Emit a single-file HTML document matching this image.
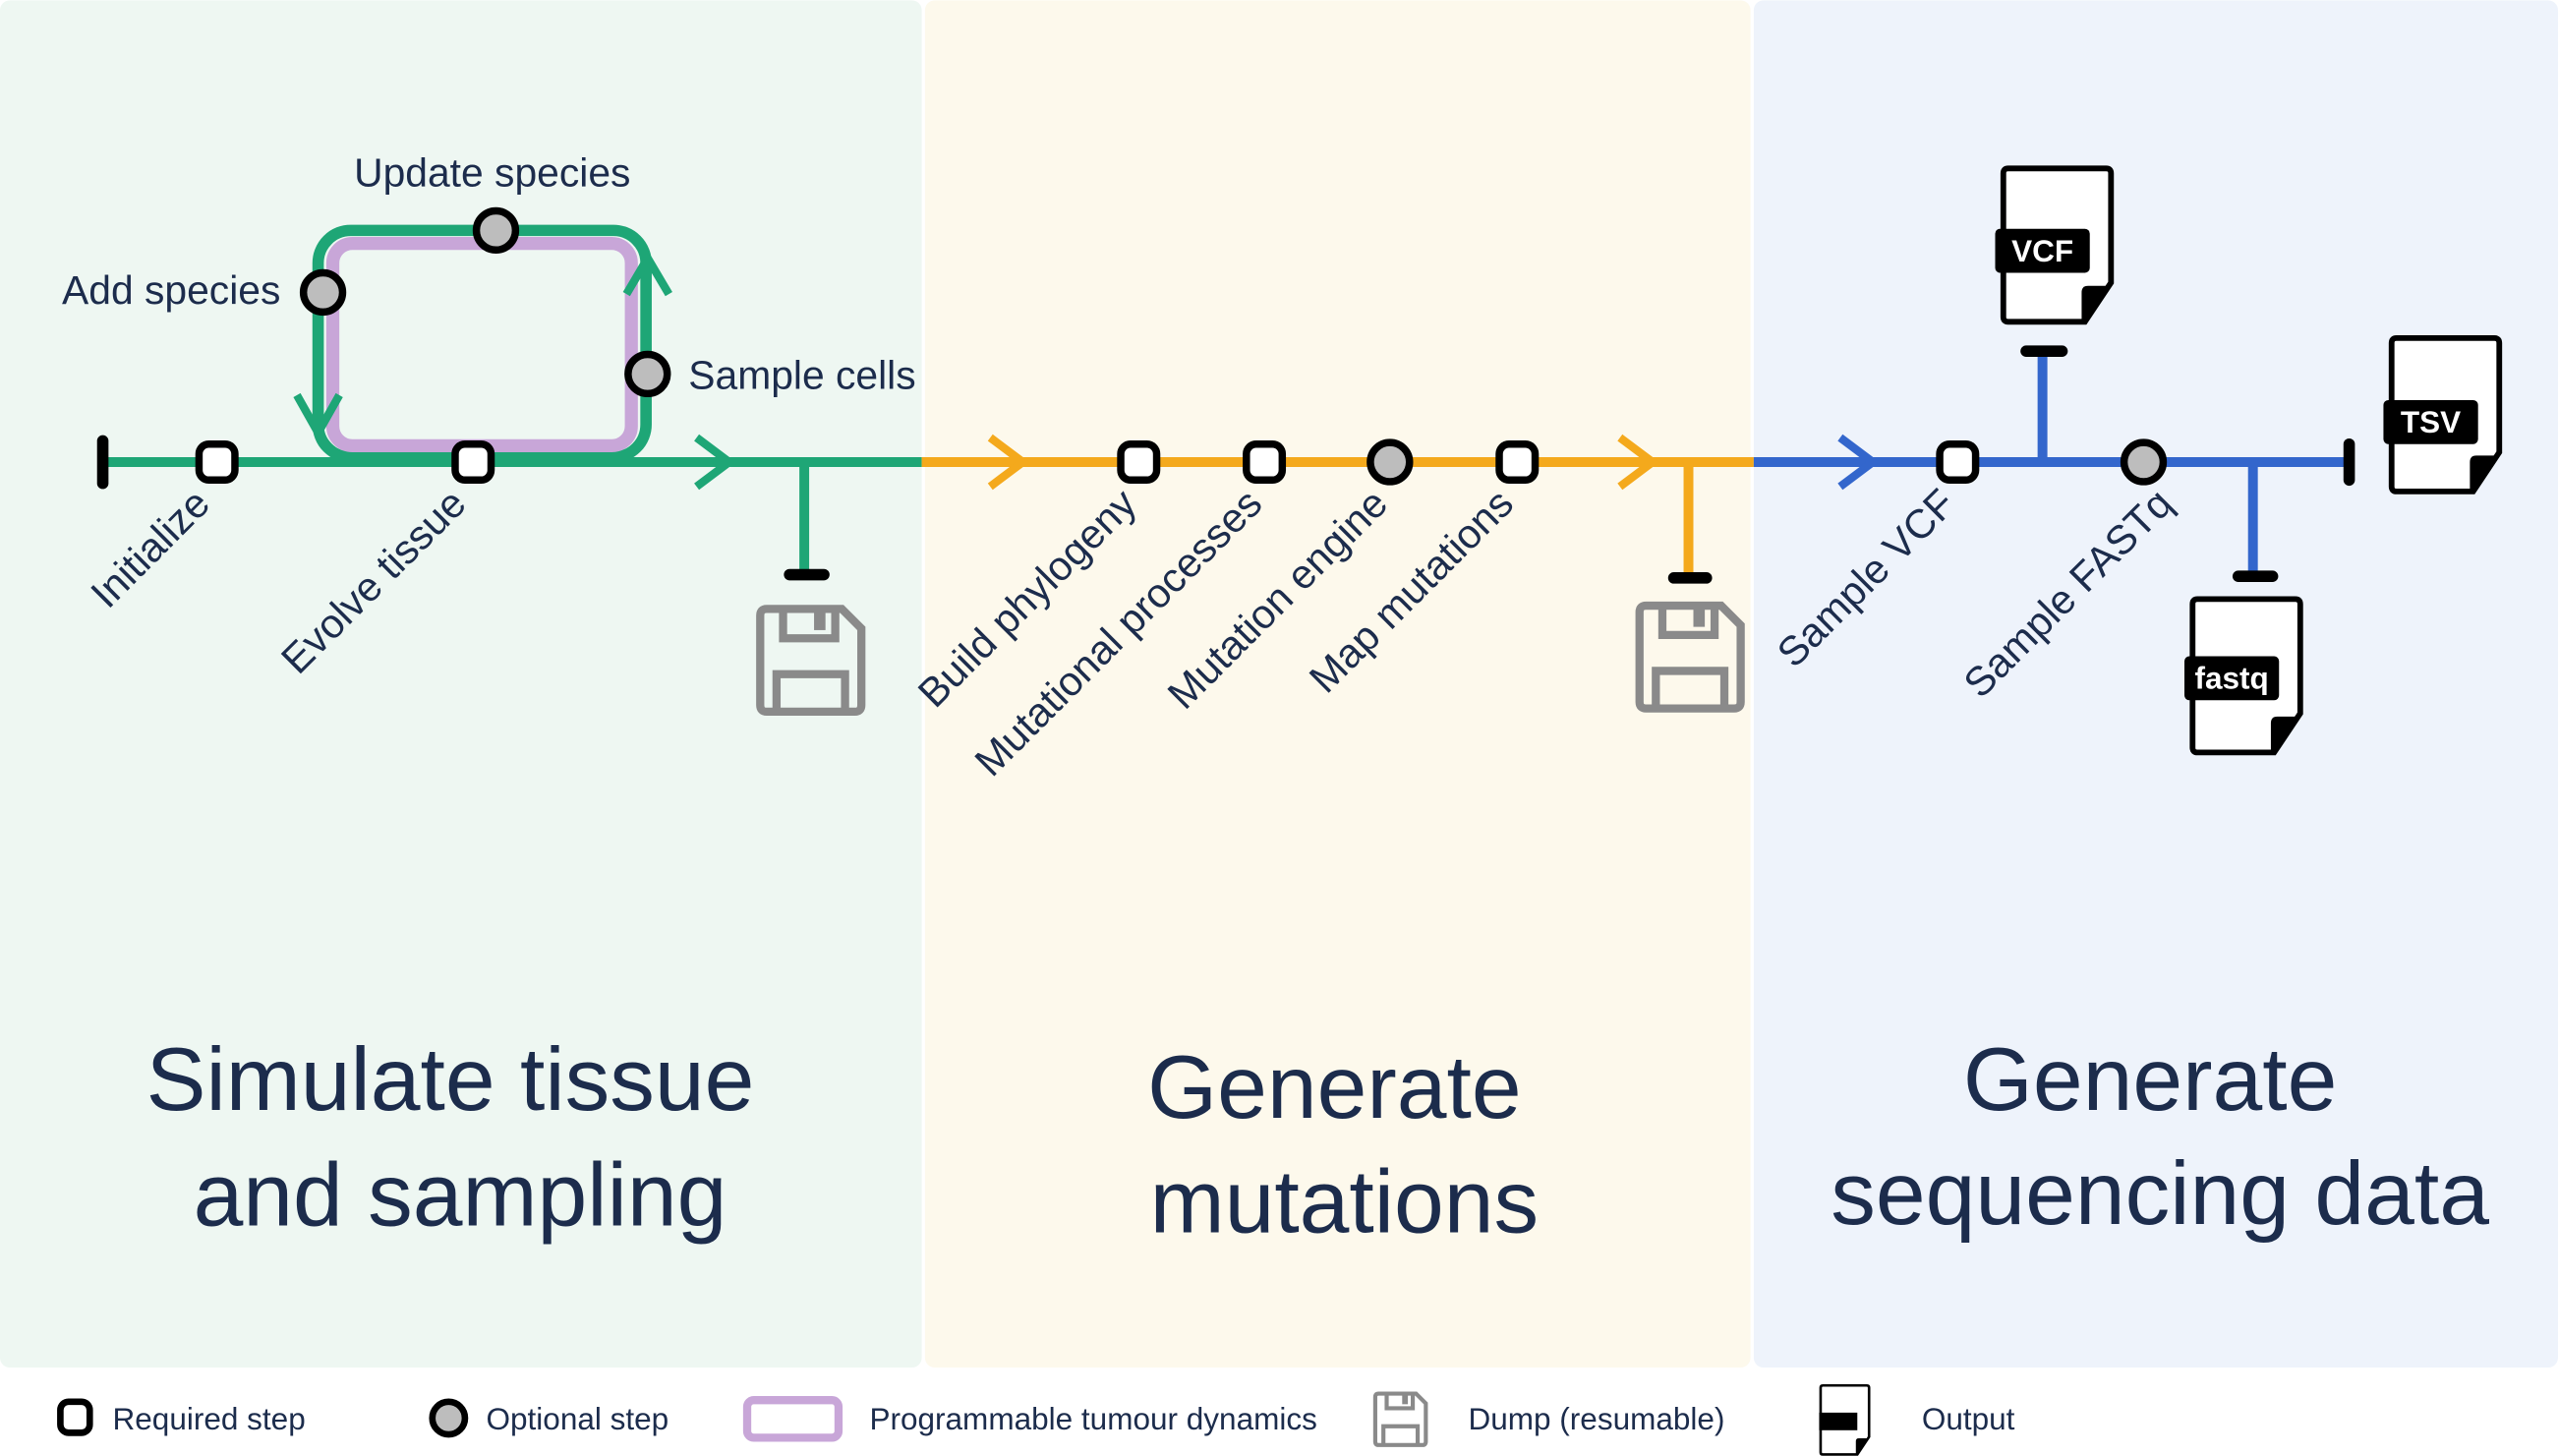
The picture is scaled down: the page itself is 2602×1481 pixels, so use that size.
<!DOCTYPE html>
<html><head><meta charset="utf-8"><style>
html,body{margin:0;padding:0;background:#fff}
svg{display:block}
text{font-family:"Liberation Sans",sans-serif;fill:#1c2c4c}
</style></head><body>
<svg width="2602" height="1481" viewBox="0 0 1568 892" xmlns="http://www.w3.org/2000/svg">
<defs>
<g id="doc">
<path d="M3,0 H63 Q66,0 66,3 V70 L50,94 H3 Q0,94 0,91 V3 Q0,0 3,0 Z" fill="#fff" stroke="#000" stroke-width="3.5"/>
<path d="M48,94 V76 Q48,72 52,72 H66 Z" fill="#000"/>
</g>
<g id="floppy">
<path d="M4,0 H50 L62,12 V59 Q62,63 58,63 H4 Q0,63 0,59 V4 Q0,0 4,0 Z" fill="none" stroke="#8a8a8a" stroke-width="5"/>
<path d="M14,0 V18 H46 V0" fill="none" stroke="#8a8a8a" stroke-width="5"/>
<rect x="33" y="2" width="7" height="11" fill="#8a8a8a"/>
<path d="M10,63 V40 H52 V63" fill="none" stroke="#8a8a8a" stroke-width="5"/>
</g>
</defs>
<rect x="0" y="0" width="565" height="838" rx="6" fill="#eef7f2"/>
<rect x="567" y="0" width="506" height="838" rx="6" fill="#fdf9ec"/>
<rect x="1075" y="0" width="493" height="838" rx="6" fill="#eef3fb"/>

<g>
<rect x="195" y="141" width="201" height="139" rx="20" fill="none" stroke="#1ea676" stroke-width="7"/>
<rect x="204" y="149" width="183" height="124" rx="12" fill="none" stroke="#c8a6d8" stroke-width="8"/>
<line x1="63" y1="283" x2="565" y2="283" stroke="#1ea676" stroke-width="6"/>
<line x1="63" y1="270" x2="63" y2="296" stroke="#000" stroke-width="7" stroke-linecap="round"/>
<path d="M182,242 L195,265 L208,242" fill="none" stroke="#1ea676" stroke-width="5"/>
<path d="M384,180 L397,158 L410,180" fill="none" stroke="#1ea676" stroke-width="5"/>
<path d="M427,268 L447,283 L427,298" fill="none" stroke="#1ea676" stroke-width="5"/>
<line x1="493" y1="283" x2="493" y2="350" stroke="#1ea676" stroke-width="6"/>
<line x1="484" y1="352" x2="505" y2="352" stroke="#000" stroke-width="7" stroke-linecap="round"/>
<use href="#floppy" x="466" y="373"/>
</g>
<g>
<line x1="565" y1="283" x2="1075" y2="283" stroke="#f4a91c" stroke-width="6"/>
<path d="M607,268 L627,283 L607,298" fill="none" stroke="#f4a91c" stroke-width="5"/>
<path d="M993,268 L1013,283 L993,298" fill="none" stroke="#f4a91c" stroke-width="5"/>
<line x1="1035" y1="283" x2="1035" y2="352" stroke="#f4a91c" stroke-width="6"/>
<line x1="1026" y1="354" x2="1046" y2="354" stroke="#000" stroke-width="7" stroke-linecap="round"/>
<use href="#floppy" x="1005" y="371"/>
</g>
<g>
<line x1="1075" y1="283" x2="1440" y2="283" stroke="#3366cc" stroke-width="6"/>
<path d="M1128,268 L1148,283 L1128,298" fill="none" stroke="#3366cc" stroke-width="5"/>
<line x1="1252" y1="283" x2="1252" y2="216" stroke="#3366cc" stroke-width="6"/>
<line x1="1242" y1="215" x2="1264" y2="215" stroke="#000" stroke-width="7" stroke-linecap="round"/>
<line x1="1381" y1="283" x2="1381" y2="352" stroke="#3366cc" stroke-width="6"/>
<line x1="1372" y1="353" x2="1393" y2="353" stroke="#000" stroke-width="7" stroke-linecap="round"/>
<line x1="1440" y1="272" x2="1440" y2="294" stroke="#000" stroke-width="7" stroke-linecap="round"/>
</g>
<g transform="translate(1228,103)"><use href="#doc"/><rect x="-5" y="37" width="58" height="27" rx="3" fill="#000"/><text x="24" y="57" text-anchor="middle" font-size="19" font-weight="bold" style="fill:#fff">VCF</text></g>
<g transform="translate(1466,207)"><use href="#doc"/><rect x="-5" y="38" width="58" height="27" rx="3" fill="#000"/><text x="24" y="58" text-anchor="middle" font-size="19" font-weight="bold" style="fill:#fff">TSV</text></g>
<g transform="translate(1344,367)"><use href="#doc"/><rect x="-5" y="35" width="58" height="27" rx="3" fill="#000"/><text x="24" y="55" text-anchor="middle" font-size="19" font-weight="bold" style="fill:#fff">fastq</text></g>

<g stroke="#000" stroke-width="4.5">
<rect x="122" y="272" width="22" height="22" rx="6" fill="#fff"/>
<rect x="279" y="272" width="22" height="22" rx="6" fill="#fff"/>
<rect x="687" y="272" width="22" height="22" rx="6" fill="#fff"/>
<rect x="764" y="272" width="22" height="22" rx="6" fill="#fff"/>
<rect x="919" y="272" width="22" height="22" rx="6" fill="#fff"/>
<rect x="1189" y="272" width="22" height="22" rx="6" fill="#fff"/>
<circle cx="852" cy="283" r="12" fill="#bdbdbd"/>
<circle cx="1314" cy="283" r="12" fill="#bdbdbd"/>
<circle cx="198" cy="179" r="12" fill="#bdbdbd"/>
<circle cx="304" cy="141" r="12" fill="#bdbdbd"/>
<circle cx="397" cy="229" r="12" fill="#bdbdbd"/>
</g>

<g font-size="24.6">
<text x="38" y="186">Add species</text>
<text x="217" y="114">Update species</text>
<text x="422" y="238">Sample cells</text>
</g>
<g font-size="25" text-anchor="end">
<text transform="translate(130,310) rotate(-45)">Initialize</text>
<text transform="translate(287,310) rotate(-45)">Evolve tissue</text>
<text transform="translate(698,310) rotate(-45)">Build phylogeny</text>
<text transform="translate(775,310) rotate(-45)">Mutational processes</text>
<text transform="translate(852,310) rotate(-45)">Mutation engine</text>
<text transform="translate(929,310) rotate(-45)">Map mutations</text>
<text transform="translate(1200,310) rotate(-45)">Sample VCF</text>
<text transform="translate(1333,310) rotate(-45)">Sample FASTq</text>
</g>

<g font-size="55" text-anchor="middle">
<text x="276" y="680">Simulate tissue</text>
<text x="282" y="751">and sampling</text>
<text x="818" y="685">Generate</text>
<text x="824" y="755">mutations</text>
<text x="1318" y="680">Generate</text>
<text x="1324" y="750">sequencing data</text>
</g>

<g font-size="19">
<rect x="37" y="859" width="18" height="19" rx="5" fill="#fff" stroke="#000" stroke-width="4"/>
<text x="69" y="876">Required step</text>
<circle cx="275" cy="869" r="10" fill="#bdbdbd" stroke="#000" stroke-width="4"/>
<text x="298" y="876">Optional step</text>
<rect x="458" y="858" width="56" height="23" rx="4" fill="none" stroke="#c8a6d8" stroke-width="5"/>
<text x="533" y="876">Programmable tumour dynamics</text>
<g transform="translate(843,854) scale(0.5)"><use href="#floppy"/></g>
<text x="900" y="876">Dump (resumable)</text>
<g transform="translate(1116,849) scale(0.45)"><use href="#doc"/><rect x="-2" y="37" width="52" height="24" fill="#000"/></g>
<text x="1178" y="876">Output</text>
</g>
</svg>
</body></html>
